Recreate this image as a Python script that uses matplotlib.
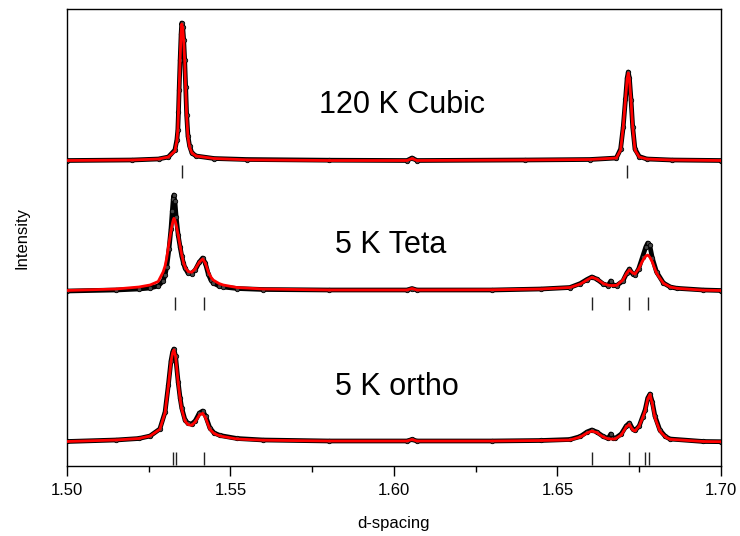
import numpy as np
import matplotlib.pyplot as plt
from matplotlib.ticker import MultipleLocator

plt.rcParams['font.family'] = ['Liberation Sans', 'DejaVu Sans']

# ---- 120 K Cubic (heights above its own baseline) ----
top_d = [1.5000, 1.5200, 1.5280, 1.5310, 1.5330, 1.5336, 1.5339, 1.5341, 1.5343,
         1.5346, 1.5349, 1.5351, 1.5354, 1.5357, 1.5360, 1.5363, 1.5366, 1.5370,
         1.5375, 1.5382, 1.5395, 1.5450, 1.5550, 1.5800, 1.6040, 1.6055, 1.6070,
         1.6400, 1.6600, 1.6680, 1.6693, 1.6701, 1.6708, 1.6713, 1.67165, 1.6720,
         1.6725, 1.6730, 1.6737, 1.6750, 1.6773, 1.6850, 1.7000]
top_calc = [0.5, 1, 2, 4, 10, 20, 32, 50, 72,
            102, 128, 137, 133, 120, 100, 72, 45, 24,
            14, 8, 5, 2.5, 1.2, 0.5, 0.5, 2.5, 0.5,
            1, 1.5, 3, 11, 34, 62, 82, 88, 82,
            60, 34, 11, 4, 2, 1, 0.5]
top_obs = [0.5, 1, 2, 4, 11, 21, 31, 49, 71,
           101, 127, 138, 134, 121, 101, 74, 46, 25,
           15, 8, 5, 2.5, 1.5, 0.8, 0.5, 3, 0.5,
           1, 1.5, 3, 12, 34, 62, 83, 89, 83,
           61, 34, 12, 4.5, 2, 1, 0.5]

# ---- 5 K Teta ----
mid_d = [1.5000, 1.5150, 1.5220, 1.5254, 1.5279, 1.5294, 1.5300, 1.5305, 1.5312,
         1.5318, 1.5322, 1.5325, 1.5327, 1.5330, 1.5334, 1.5340, 1.5346, 1.5351,
         1.5356, 1.5361, 1.5370, 1.5381, 1.5392, 1.5405, 1.5415, 1.5423, 1.5432,
         1.5440, 1.5447, 1.5465, 1.5478, 1.5520, 1.5600, 1.5800, 1.6040, 1.6055,
         1.6070, 1.6300, 1.6450, 1.6538, 1.6570, 1.6590, 1.6605, 1.6620, 1.6640,
         1.6655, 1.6663, 1.6670, 1.6681, 1.6700, 1.6712, 1.6720, 1.6730, 1.6737,
         1.6748, 1.6760, 1.6770, 1.6776, 1.6782, 1.6790, 1.6803, 1.6824, 1.6845,
         1.6865, 1.6946, 1.7000]
mid_calc = [0.5, 2, 4, 6, 9.5, 19, 25, 33, 48,
            60, 67, 71, 72.7, 71, 66, 56, 45, 36,
            29, 24, 19.5, 18.7, 22, 29, 32, 28, 19.3,
            14, 11, 7.5, 6, 3.5, 2, 1, 1, 2.5,
            1, 1.2, 2, 3.5, 7, 11, 13.7, 12, 7.5,
            5.8, 5.5, 5.5, 5.7, 11, 18, 21, 18, 17,
            22, 30, 35, 36, 34, 29, 17.7, 7.7, 4,
            2.7, 0.8, 0.5]
mid_obs = [0, 1, 2, 3, 5, 10, 16, 24, 42,
           62, 80, 92, 96, 90, 74, 56, 44, 35,
           28, 23, 18, 17.5, 21, 29, 33, 28, 17,
           11, 8, 5, 4, 2.5, 1.5, 1, 1, 2.5,
           1, 1, 2, 3.5, 7.5, 11.5, 14, 12, 7,
           5.5, 10, 6, 5.5, 10, 18, 22, 17, 16,
           22, 34, 44, 48, 46, 33, 19, 8, 4,
           2.7, 1, 0.5]

# ---- 5 K ortho ----
bot_d = [1.5000, 1.5150, 1.5220, 1.5254, 1.5284, 1.5300, 1.5310, 1.5318, 1.5323,
         1.5327, 1.5332, 1.5340, 1.5346, 1.5351, 1.5361, 1.5370, 1.5381, 1.5392,
         1.5405, 1.5415, 1.5424, 1.5437, 1.5450, 1.5468, 1.5520, 1.5600, 1.5800,
         1.6040, 1.6055, 1.6070, 1.6300, 1.6450, 1.6538, 1.6570, 1.6590, 1.6605,
         1.6620, 1.6640, 1.6655, 1.6663, 1.6670, 1.6676, 1.6695, 1.6710, 1.6720,
         1.6730, 1.6737, 1.6750, 1.6760, 1.6768, 1.6776, 1.6783, 1.6790, 1.6798,
         1.6813, 1.6830, 1.6844, 1.6946, 1.7000]
bot_calc = [0.5, 2, 3.5, 6, 12.7, 29.3, 56, 80, 89,
            92, 86, 59.3, 43, 32.7, 21, 17.5, 16.7, 20,
            27, 28.7, 24, 12.7, 8.5, 6, 3, 1.8, 1,
            1, 2.5, 1, 1, 1.5, 2, 5, 9, 11,
            9.5, 5, 3.2, 3, 3, 3, 7, 15, 17.7,
            12, 11, 16, 24, 31, 43, 47.7, 38, 24.3,
            11, 5, 2.7, 0.5, 0.3]
bot_obs = [0.5, 2, 3.5, 6, 13, 30, 57, 81, 90,
           93, 86, 60, 44, 34, 22, 18.5, 18, 21,
           29, 31, 26, 14, 9, 6.5, 3.5, 2, 1,
           1, 2.5, 1, 1, 1.5, 2.5, 5.5, 10, 12,
           10, 5.5, 3.5, 8, 4, 3.5, 8, 16, 19,
           13, 11.5, 16, 25, 32, 44, 48, 40, 26,
           12, 5.5, 3, 0.5, 0.3]

# reflection markers
top_refl = [1.5352, 1.6713]
mid_refl = [1.5330, 1.5419, 1.6606, 1.6719, 1.6777]
bot_refl = [1.5324, 1.5332, 1.5419, 1.6606, 1.6719, 1.6769, 1.6780]

labels = ['120 K Cubic', '5 K Teta', '5 K ortho']

# layout: baseline offset, reflection-tick span, label position
patterns = [
    (top_d, top_obs, top_calc, top_refl, 305, (288, 301), (1.6024, 361)),
    (mid_d, mid_obs, mid_calc, mid_refl, 175, (156, 169), (1.5991, 221)),
    (bot_d, bot_obs, bot_calc, bot_refl, 24, (1, 14), (1.6009, 79)),
]

fig = plt.figure(figsize=(7.4, 5.36), dpi=100)
ax = fig.add_axes([0.0905, 0.1306, 0.8838, 0.8526])

for label, (d, obs, calc, refl, base, tick_y, pos) in zip(labels, patterns):
    d = np.array(d)
    ax.plot(d, np.array(obs) + base, color='black', lw=3.4, zorder=2)
    ax.plot(d, np.array(obs) + base, 'o', ms=3.2, mec='black', mfc='#444444',
            mew=0.6, zorder=2)
    ax.plot(d, np.array(calc) + base, color='red', lw=2.0, zorder=3)
    ax.vlines(refl, tick_y[0], tick_y[1], color='#222222', lw=1.0)
    ax.text(pos[0], pos[1], label, ha='center', va='center', fontsize=22)

ax.set_xlim(1.50, 1.70)
ax.set_ylim(0, 457)
ax.xaxis.set_major_locator(MultipleLocator(0.05))
ax.xaxis.set_minor_locator(MultipleLocator(0.025))
ax.xaxis.set_major_formatter(plt.FormatStrFormatter('%.2f'))
ax.tick_params(axis='x', which='major', direction='out', length=7, width=1,
               labelsize=12, pad=5)
ax.tick_params(axis='x', which='minor', direction='out', length=4, width=1)
ax.set_yticks([])
for s in ax.spines.values():
    s.set_linewidth(1.0)

ax.set_xlabel('d-spacing', fontsize=12, labelpad=13)
ax.set_ylabel('Intensity', fontsize=12, labelpad=27)

plt.savefig('out.png', dpi=100)
plt.close()
